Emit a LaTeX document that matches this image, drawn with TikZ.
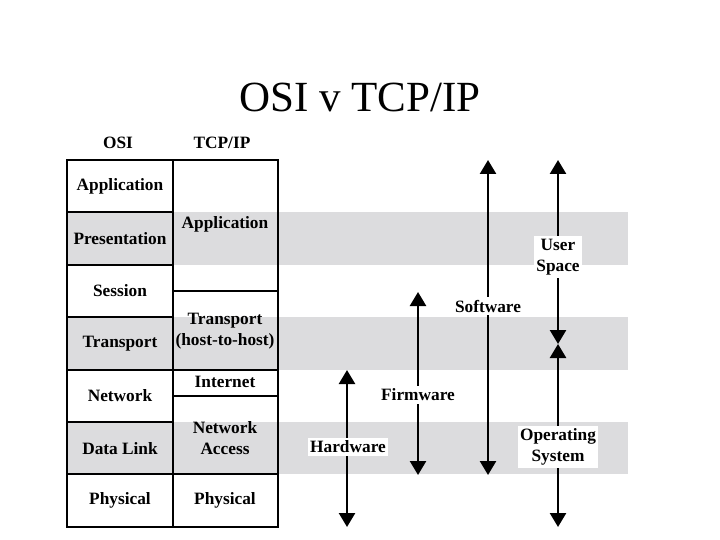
\documentclass[tikz,border=0pt]{standalone}
\usepackage{fontspec}
\setmainfont{Liberation Serif}
\usetikzlibrary{arrows.meta}
\definecolor{bandgray}{RGB}{220,220,222}
\tikzset{
 layer/.style={font=\bfseries\fontsize{17.3}{21}\selectfont,align=center,inner sep=1pt},
 span/.style={line width=2.5pt,{Triangle[width=16pt,length=14pt]}-{Triangle[width=16pt,length=14pt]}},
 spanlbl/.style={layer,fill=white,inner sep=2.5pt}
}
\begin{document}
\begin{tikzpicture}[x=1pt,y=-1pt]
\pgfmathsetmacro{\krow}{52.4}
\pgfmathsetmacro{\ktop}{160}
\pgfmathsetmacro{\kxa}{67}
\pgfmathsetmacro{\kxb}{173}
\pgfmathsetmacro{\kxc}{278}
\path[use as bounding box,fill=white](0,0)rectangle(720,540);
\node[font=\fontsize{43}{48}\selectfont](title)at(360,97){OSI v TCP/IP};
\foreach \kr in {1,3,5}{\fill[bandgray](\kxa,\ktop+\kr*\krow)rectangle(628,\ktop+\kr*\krow+\krow);}
\draw[line width=2pt](\kxa,\ktop)rectangle(\kxc,\ktop+7*\krow);
\draw[line width=2pt](\kxb,\ktop)--(\kxb,\ktop+7*\krow);
\foreach \kr in {1,...,6}{\draw[line width=2pt](\kxa,\ktop+\kr*\krow)--(\kxb,\ktop+\kr*\krow);}
\foreach \kr in {2.5,4,4.5,6}{\draw[line width=2pt](\kxb,\ktop+\kr*\krow)--(\kxc,\ktop+\kr*\krow);}
\node[layer](hosi)at(118,143){OSI};
\node[layer](htcp)at(222,143){TCP/IP};
\foreach \kr/\klb in {0/Application,1/Presentation,2/Session,3/Transport,4/Network,5/Data Link,6/Physical}{\node[layer](osi\kr)at(120,\ktop+\kr*\krow+\krow/2){\klb};}
\foreach \kn/\ky/\klb in {app/224/Application,tra/331/{Transport\\(host-to-host)},int/382/Internet,acc/438/{Network\\Access},phy/500/Physical}{\node[layer](tcp\kn)at(225,\ky){\klb};}
\foreach \kn/\kx/\kya/\kyb in {hw/347/370/527,fw/418/292/475,sw/488/160/475,us/558/160/344,os/558/344/527}{\coordinate(\kn top)at(\kx,\kya);\coordinate(\kn bot)at(\kx,\kyb);\draw[span](\kn top)--(\kn bot);}
\foreach \kn/\kx/\ky/\klb in {hw/348/447/Hardware,fw/418/395/Firmware,sw/488/306/Software,us/558/257/{User\\Space},os/558/447/{Operating\\System}}{\node[spanlbl](\kn lbl)at(\kx,\ky){\klb};}
\end{tikzpicture}
\end{document}
